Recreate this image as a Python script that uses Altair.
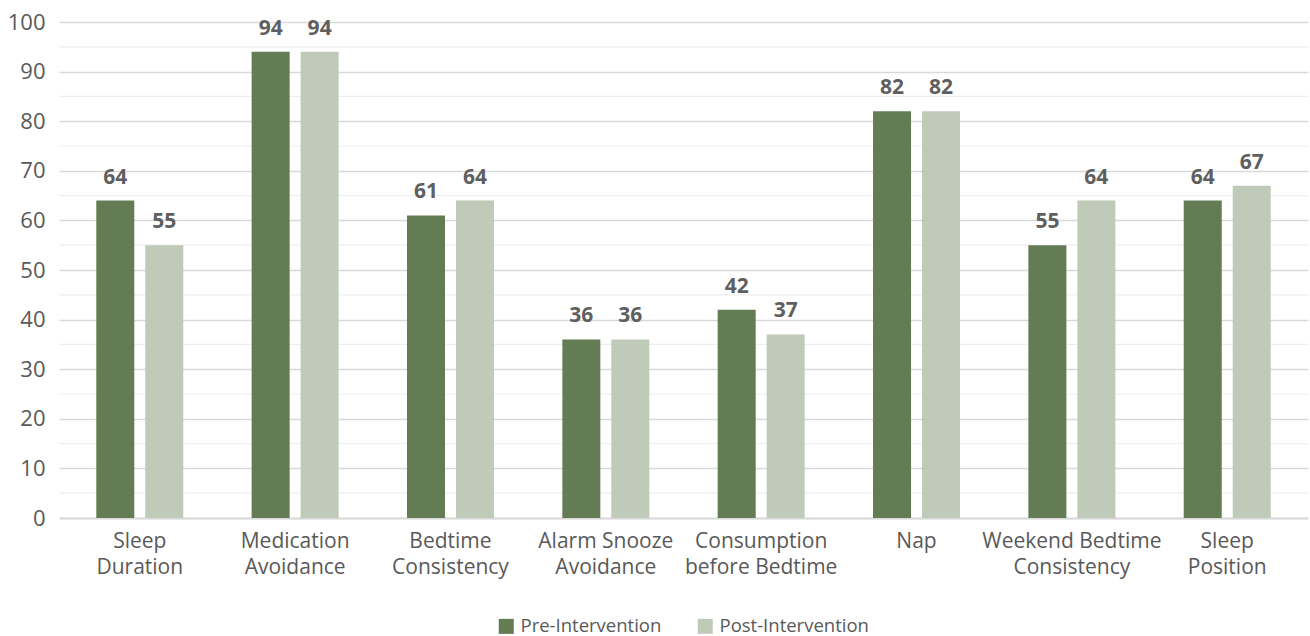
import altair as alt
import pandas as pd

categories = [
    "Sleep Duration", "Medication Avoidance", "Bedtime Consistency",
    "Alarm Snooze Avoidance", "Consumption before Bedtime", "Nap",
    "Weekend Bedtime Consistency", "Sleep Position",
]
label_lines = {
    "Sleep Duration": ["Sleep", "Duration"],
    "Medication Avoidance": ["Medication", "Avoidance"],
    "Bedtime Consistency": ["Bedtime", "Consistency"],
    "Alarm Snooze Avoidance": ["Alarm Snooze", "Avoidance"],
    "Consumption before Bedtime": ["Consumption", "before Bedtime"],
    "Nap": ["Nap"],
    "Weekend Bedtime Consistency": ["Weekend Bedtime", "Consistency"],
    "Sleep Position": ["Sleep", "Position"],
}
series = ["Pre-Intervention", "Post-Intervention"]
pre_values = [64, 94, 61, 36, 42, 82, 55, 64]
post_values = [55, 94, 64, 36, 37, 82, 64, 67]
colors = ["#637c53", "#bfcab8"]
minor_ticks = [5, 15, 25, 35, 45, 55, 65, 75, 85, 95]

rows = []
for cat, pre, post in zip(categories, pre_values, post_values):
    rows.append({"category": cat, "series": series[0], "value": pre})
    rows.append({"category": cat, "series": series[1], "value": post})
df = pd.DataFrame(rows)
minor_df = pd.DataFrame({"v": minor_ticks})

FONT = "Open Sans"
TEXT = "#595959"

# object literal mapping each category to its wrapped label lines
mapping = "{" + ", ".join(
    "'" + k + "': [" + ", ".join("'" + s + "'" for s in v) + "]"
    for k, v in label_lines.items()
) + "}"

x_enc = alt.X(
    "category:N", sort=categories, title=None,
    scale=alt.Scale(paddingInner=0.44, paddingOuter=0.24),
    axis=alt.Axis(
        labelExpr=mapping + "[datum.value]",
        labelAngle=0, labelFont=FONT, labelFontSize=21, labelColor=TEXT,
        labelLineHeight=26, labelPadding=12, ticks=False, domain=True,
        domainColor="#d9d9d9", domainWidth=2, labelBaseline="top",
    ),
)
x_off = alt.XOffset("series:N", sort=series, scale=alt.Scale(paddingInner=0.224))
y_enc = alt.Y(
    "value:Q", title=None,
    scale=alt.Scale(domain=[0, 100], nice=False),
    axis=alt.Axis(
        values=list(range(0, 101, 10)), labelFont=FONT, labelFontSize=22,
        labelColor=TEXT, labelPadding=14, ticks=False, domain=False,
        grid=True, gridColor="#d9d9d9", gridWidth=1.5,
    ),
)

minor = alt.Chart(minor_df).mark_rule(color="#eeeeee", strokeWidth=1.2).encode(
    y=alt.Y("v:Q", scale=alt.Scale(domain=[0, 100], nice=False))
)

base = alt.Chart(df).encode(x=x_enc, xOffset=x_off)

bars = base.mark_bar().encode(
    y=y_enc,
    color=alt.Color(
        "series:N", sort=series, title=None,
        scale=alt.Scale(domain=series, range=colors),
        legend=alt.Legend(
            orient="none", legendX=438, legendY=595,
            direction="horizontal", symbolType="square",
            symbolSize=225, labelFont=FONT, labelFontSize=18.5, labelColor=TEXT,
            labelOffset=5, columnPadding=34, symbolStrokeWidth=0,
        ),
    ),
)

labels = base.mark_text(
    font=FONT, fontSize=21, fontWeight="bold", color="#5f5f5f",
    baseline="bottom", dy=-13,
).encode(y="value:Q", text="value:Q")

chart = alt.layer(minor, bars, labels).properties(
    width=1249, height=496,
    padding={"left": 59, "top": 22, "right": 2, "bottom": 118},
    autosize=alt.AutoSizeParams(type="none"),
).configure_view(stroke=None).configure_axis(grid=False)

chart.save("out.html", embed_options={"renderer": "svg", "actions": False})
